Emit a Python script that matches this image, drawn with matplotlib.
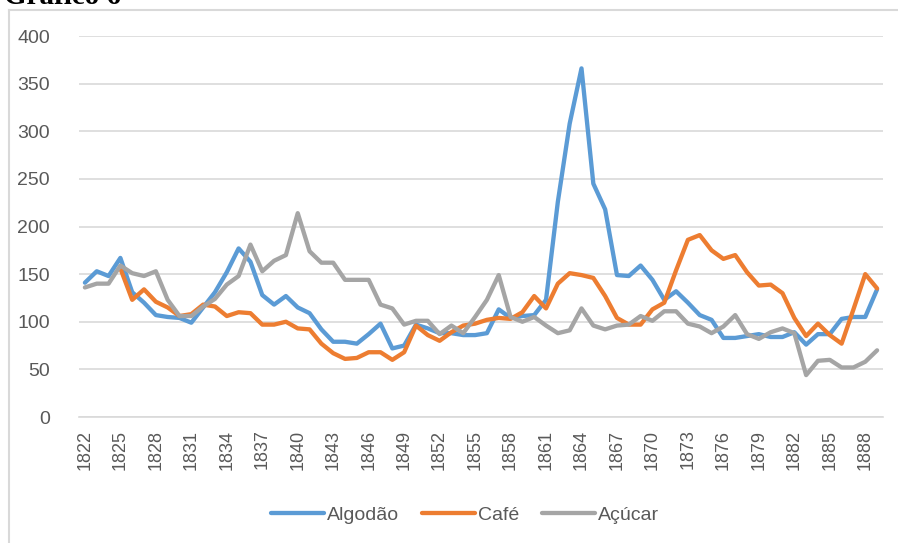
import numpy as np
import matplotlib
matplotlib.use("Agg")
from matplotlib import pyplot as plt
from matplotlib.lines import Line2D

YEARS = list(range(1822, 1890))

ALGODAO = [141, 153, 148, 167, 131, 120, 107, 105, 104, 99,
           115, 131, 152, 177, 163, 128, 118, 127, 115, 109,
           92, 79, 79, 77, 87, 98, 72, 75, 97, 93,
           88, 88, 86, 86, 88, 113, 104, 106, 107, 123,
           226, 308, 366, 245, 218, 149, 148, 159, 144, 123,
           132, 120, 107, 102, 83, 83, 85, 87, 84, 84,
           89, 76, 87, 87, 103, 105, 105, 134]

CAFE = [np.nan, np.nan, np.nan, 156, 123, 134, 121, 115, 106, 108,
        118, 116, 106, 110, 109, 97, 97, 100, 93, 92,
        77, 67, 61, 62, 68, 68, 60, 68, 96, 86,
        80, 89, 96, 98, 102, 104, 103, 110, 127, 114,
        140, 151, 149, 146, 127, 104, 97, 97, 113, 120,
        154, 186, 191, 175, 166, 170, 152, 138, 139, 130,
        104, 85, 98, 86, 77, 113, 150, 135]

ACUCAR = [136, 140, 140, 159, 151, 148, 153, 123, 106, 106,
          116, 124, 139, 148, 181, 153, 164, 170, 214, 174,
          162, 162, 144, 144, 144, 118, 114, 97, 101, 101,
          87, 96, 88, 105, 123, 149, 105, 100, 105, 96,
          88, 91, 114, 96, 92, 96, 97, 106, 101, 111,
          111, 98, 95, 88, 95, 107, 87, 82, 89, 93,
          88, 44, 59, 60, 52, 52, 58, 70]

SERIES = [("Algodão", ALGODAO, "#5B9BD5"),
          ("Café", CAFE, "#ED7D31"),
          ("Açúcar", ACUCAR, "#A5A5A5")]

W, H = 898, 543
fig = plt.figure(figsize=(W / 100, H / 100), dpi=100)
fig.patch.set_facecolor("white")

# outer frame (only left and top edges show in the crop)
fig.add_artist(Line2D([8.5 / W, 8.5 / W], [0, 1 - 9.5 / H], color="#D9D9D9", lw=1.5))
fig.add_artist(Line2D([8.5 / W, 1], [1 - 9.5 / H, 1 - 9.5 / H], color="#D9D9D9", lw=1.5))

# title, cut off by the top edge like in the source
fig.text(4 / W, 1 - 4 / H, "Gráfico 6", family="Liberation Serif", weight="bold",
         fontsize=21, va="baseline", ha="left")

ax = fig.add_axes([79 / W, 1 - 417 / H, (883 - 79) / W, (417 - 36) / H])
x = np.arange(len(YEARS))
for name, vals, col in SERIES:
    ax.plot(x, vals, color=col, lw=3.1, label=name, solid_joinstyle="round",
            solid_capstyle="round")

ax.set_xlim(-0.5, len(YEARS) - 0.5)
ax.set_ylim(0, 400)
ax.set_yticks(range(0, 401, 50))
ax.set_xticks(x[::3])
ax.set_xticklabels([str(y) for y in YEARS[::3]], rotation=90)
ax.grid(axis="y", color="#D9D9D9", lw=1.2)
ax.set_axisbelow(True)
for s in ["top", "right", "left"]:
    ax.spines[s].set_visible(False)
ax.spines["bottom"].set_color("#D9D9D9")
ax.spines["bottom"].set_linewidth(1.2)
ax.tick_params(axis="both", length=0, colors="#595959")
ax.tick_params(axis="y", labelsize=14, pad=21)
ax.tick_params(axis="x", labelsize=13, pad=9)
for t in ax.get_xticklabels() + ax.get_yticklabels():
    t.set_family("Liberation Sans")

leg = ax.legend(loc="center", bbox_to_anchor=(465 / W, 1 - 515 / H),
                bbox_transform=fig.transFigure, ncol=3, frameon=False,
                handlelength=2.7, handletextpad=0.15, columnspacing=1.2,
                prop={"family": "Liberation Sans", "size": 14})
for t in leg.get_texts():
    t.set_color("#595959")
for h in leg.get_lines():
    h.set_linewidth(3.1)

fig.savefig("out.png", dpi=100)
